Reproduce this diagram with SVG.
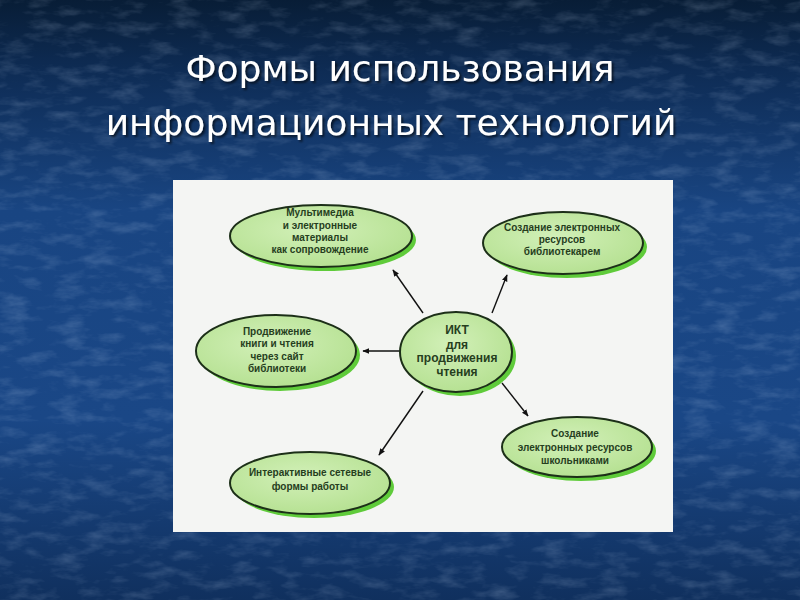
<svg xmlns="http://www.w3.org/2000/svg" width="800" height="600" viewBox="0 0 800 600">
  <defs>
    <linearGradient id="bg" x1="0" y1="0" x2="0" y2="1">
      <stop offset="0" stop-color="#081d36"/>
      <stop offset="0.12" stop-color="#0e2c55"/>
      <stop offset="0.35" stop-color="#194582"/>
      <stop offset="0.7" stop-color="#1a4786"/>
      <stop offset="1" stop-color="#10305e"/>
    </linearGradient>
    <filter id="tex" x="0" y="0" width="100%" height="100%">
      <feTurbulence type="fractalNoise" baseFrequency="0.035 0.09" numOctaves="4" seed="11" result="n"/>
      <feColorMatrix in="n" type="matrix" values="0 0 0 0 0.7  0 0 0 0 0.82  0 0 0 0 1  0 0 0 1.3 -0.6"/>
    </filter>
    <radialGradient id="nodeFill" cx="0.45" cy="0.4" r="0.65">
      <stop offset="0" stop-color="#d2f0b8"/>
      <stop offset="1" stop-color="#b4e090"/>
    </radialGradient>
    <filter id="tshadow" x="-5%" y="-20%" width="110%" height="140%">
      <feDropShadow dx="2" dy="2" stdDeviation="1" flood-color="#000" flood-opacity="0.6"/>
    </filter>
    <marker id="arr" viewBox="0 0 10 10" refX="9" refY="5" markerWidth="7" markerHeight="7" orient="auto" markerUnits="userSpaceOnUse">
      <path d="M0,1 L10,5 L0,9 Z" fill="#111"/>
    </marker>
    <style>
      .title { font-family: "DejaVu Sans", "Noto Sans", sans-serif; font-size: 36px; fill: #ffffff; text-anchor: middle; }
      .shadow { fill: #5fcb3a; }
      .node { fill: url(#nodeFill); stroke: #1c2f18; stroke-width: 2; }
      .lbl { font-family: "Liberation Sans", Arial, sans-serif; font-size: 10px; font-weight: bold; fill: #263e1e; text-anchor: middle; }
      .lblc { font-family: "Liberation Sans", Arial, sans-serif; font-size: 12px; font-weight: bold; fill: #263e1e; text-anchor: middle; }
      .edge { stroke: #111; stroke-width: 1.4; fill: none; marker-end: url(#arr); }
    </style>
  </defs>

  <rect x="0" y="0" width="800" height="600" fill="url(#bg)"/>
  <rect x="0" y="0" width="800" height="600" filter="url(#tex)" opacity="0.3"/>

  <g id="title" filter="url(#tshadow)">
    <text class="title" x="400" y="81">Формы использования</text>
    <text class="title" x="391" y="135">информационных технологий</text>
  </g>

  <rect id="panel" x="173" y="180" width="500" height="352" fill="#f4f5f3"/>

  <g id="connectors">
    <line class="edge" x1="423" y1="313" x2="393" y2="270"/>
    <line class="edge" x1="492" y1="313" x2="507" y2="275"/>
    <line class="edge" x1="400" y1="351" x2="363" y2="351"/>
    <line class="edge" x1="423" y1="391" x2="379" y2="455"/>
    <line class="edge" x1="502" y1="383" x2="528" y2="416"/>
  </g>

  <g id="n-multimedia">
    <ellipse class="shadow" cx="325" cy="240" rx="91" ry="31"/>
    <ellipse class="node" cx="321" cy="236" rx="91" ry="31"/>
    <text class="lbl" x="320" y="216">Мультимедиа</text>
    <text class="lbl" x="320" y="229">и электронные</text>
    <text class="lbl" x="320" y="241">материалы</text>
    <text class="lbl" x="320" y="253">как сопровождение</text>
  </g>

  <g id="n-librarian">
    <ellipse class="shadow" cx="567" cy="247" rx="80" ry="31"/>
    <ellipse class="node" cx="563" cy="243" rx="80" ry="31"/>
    <text class="lbl" x="562" y="231">Создание электронных</text>
    <text class="lbl" x="562" y="243">ресурсов</text>
    <text class="lbl" x="562" y="255">библиотекарем</text>
  </g>

  <g id="n-site">
    <ellipse class="shadow" cx="280" cy="355" rx="80" ry="36"/>
    <ellipse class="node" cx="276" cy="351" rx="80" ry="36"/>
    <text class="lbl" x="277" y="335">Продвижение</text>
    <text class="lbl" x="277" y="347">книги и чтения</text>
    <text class="lbl" x="277" y="360">через сайт</text>
    <text class="lbl" x="277" y="372">библиотеки</text>
  </g>

  <g id="n-center">
    <ellipse class="shadow" cx="460" cy="356" rx="56" ry="40"/>
    <ellipse class="node" cx="456" cy="352" rx="56" ry="40"/>
    <text class="lblc" x="457" y="334">ИКТ</text>
    <text class="lblc" x="457" y="349">для</text>
    <text class="lblc" x="457" y="362">продвижения</text>
    <text class="lblc" x="457" y="376">чтения</text>
  </g>

  <g id="n-pupils">
    <ellipse class="shadow" cx="581" cy="451" rx="75" ry="30"/>
    <ellipse class="node" cx="577" cy="447" rx="75" ry="30"/>
    <text class="lbl" x="575" y="437">Создание</text>
    <text class="lbl" x="575" y="451">электронных ресурсов</text>
    <text class="lbl" x="575" y="464">школьниками</text>
  </g>

  <g id="n-interactive">
    <ellipse class="shadow" cx="314" cy="487" rx="80" ry="31"/>
    <ellipse class="node" cx="310" cy="483" rx="80" ry="31"/>
    <text class="lbl" x="310" y="476">Интерактивные сетевые</text>
    <text class="lbl" x="310" y="490">формы работы</text>
  </g>
</svg>
